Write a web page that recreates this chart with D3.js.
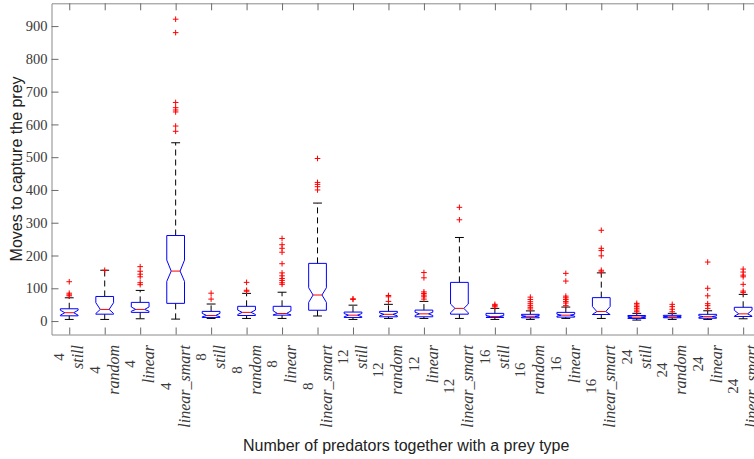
<!DOCTYPE html>
<html><head><meta charset="utf-8">
<script src="https://cdn.jsdelivr.net/npm/d3@7"></script>
<style>body{margin:0;background:#fff;} svg{display:block}</style>
</head><body><svg id="c" width="754" height="459"></svg>
<script>
// ---- data ----
const numLabels  = ["4","4","4","4","8","8","8","8","12","12","12","12","16","16","16","16","24","24","24","24"];
const typeLabels = ["still","random","linear","linear_smart","still","random","linear","linear_smart",
                    "still","random","linear","linear_smart","still","random","linear","linear_smart",
                    "still","random","linear","linear_smart"];
const q1       = [16, 21, 26.5, 54, 11, 17, 18, 33, 11, 13, 13, 21, 11, 10, 12, 20, 8, 10, 8.5, 14];
const medians  = [25.5, 35.5, 35.5, 152.5, 17, 26.5, 23, 79.5, 18, 20.5, 22, 38.7, 14, 14.5, 18, 29, 12, 13, 13.5, 22];
const q3       = [37.5, 75, 57, 261, 29.5, 45, 45, 176, 27.5, 29.6, 33.5, 118, 23.5, 20.5, 26.5, 71.5, 17, 17.5, 20.5, 42];
const whiskLo  = [5, 5, 7, 6, 8, 8, 8, 15.5, 5, 8, 8, 8, 5, 5, 8, 8, 3, 5, 5, 7];
const whiskHi  = [71, 155, 93.5, 544, 52, 84.5, 88, 360, 48.5, 51, 60, 255, 38.7, 31, 42.7, 147, 23.5, 23.5, 31.4, 81.4];
const notchLo  = [18, 23, 30, 121, 13, 20, 19, 57, 13, 16, 17, 25, 11.5, 12, 15, 20, 10, 11.5, 11, 15];
const notchHi  = [33, 56, 43, 186, 23.5, 33.5, 31, 101.6, 23, 25, 27, 52, 17, 17, 21, 44.5, 14, 14.5, 16, 33];
const outliers = [
  [120, 85, 80, 77],
  [155],
  [166, 152, 143, 135, 117, 111],
  [921, 880, 667, 651, 644, 638, 595, 579],
  [85, 67],
  [118, 94, 91],
  [252, 233, 222, 210, 175, 147, 138, 130, 124, 117, 112],
  [496, 423, 417, 410, 400],
  [68, 66],
  [78, 74, 60],
  [148, 132, 89, 84, 79, 74, 67],
  [347, 309],
  [51, 47, 43.6],
  [73, 66, 59, 53, 47, 42, 37],
  [145.5, 122, 76, 71, 66, 60, 55, 47],
  [277, 222, 215, 199, 155, 150],
  [54, 49, 44, 39, 33.5, 28.4],
  [51, 44, 36, 28.4],
  [180, 100, 77, 53, 47, 38.7],
  [158.6, 149.5, 140, 135, 112, 91.5, 87.5]
];
const yTicks = [0, 100, 200, 300, 400, 500, 600, 700, 800, 900];
const xTitle = "Number of predators together with a prey type";
const yTitle = "Moves to capture the prey";

// ---- layout ----
const svg = d3.select("#c");
const L = 51.5, R = 760.9, T = 3.3, B = 334.5;
const x = d3.scaleLinear().domain([0.5, 20.5]).range([L, R]);
const y = d3.scaleLinear().domain([-41, 969.5]).range([B, T]);
const axisCol = "#8a8a8a", tickCol = "#6a6a6a", labCol = "#3a3a3a";
const serif = "'Liberation Serif','Times New Roman',serif";
const sans = "'Liberation Sans',Arial,Helvetica,sans-serif";

const groups = d3.range(20).map(i => ({
  i, pos: i + 1, q1: q1[i], med: medians[i], q3: q3[i], wl: whiskLo[i], wh: whiskHi[i],
  nl: notchLo[i], nh: notchHi[i], out: outliers[i]
}));

// axes
const gx = svg.append("g").attr("transform", `translate(0,${B})`)
  .call(d3.axisBottom(x).tickValues(d3.range(1, 21)).tickSize(-7).tickSizeOuter(0).tickFormat(""));
const gxt = svg.append("g").attr("transform", `translate(0,${T})`)
  .call(d3.axisTop(x).tickValues(d3.range(1, 21)).tickSize(-7).tickSizeOuter(0).tickFormat(""));
const gy = svg.append("g").attr("transform", `translate(${L},0)`)
  .call(d3.axisLeft(y).tickValues(yTicks).tickSize(-7).tickSizeOuter(0).tickPadding(4));
[gx, gxt, gy].forEach(g => {
  g.select(".domain").attr("stroke", axisCol);
  g.selectAll(".tick line").attr("stroke", tickCol);
});
gy.selectAll(".tick text").attr("font-family", serif).attr("font-size", 14.5).attr("fill", labCol);
svg.append("line").attr("x1", R).attr("x2", R).attr("y1", T).attr("y2", B).attr("stroke", axisCol);

// x tick labels (two lines, rotated)
const labTop = 345;
groups.forEach(g => {
  const cx = x(g.pos);
  const t = svg.append("text")
    .attr("transform", `translate(${cx + 14},${labTop}) rotate(-90)`)
    .attr("text-anchor", "end").attr("font-family", serif).attr("font-style", "italic")
    .attr("font-size", 16).attr("fill", labCol).text(typeLabels[g.i]);
  const w = t.node().getComputedTextLength();
  svg.append("text")
    .attr("transform", `translate(${cx - 5},${labTop + w / 2}) rotate(-90)`)
    .attr("text-anchor", "middle").attr("font-family", serif)
    .attr("font-size", 15).attr("fill", labCol).text(numLabels[g.i]);
});

// boxes
const hw = 0.25, cap = 0.125, inset = 0.125;
const plot = svg.append("g");
groups.forEach(g => {
  const p = g.pos;
  // whiskers
  plot.append("line").attr("x1", x(p)).attr("x2", x(p)).attr("y1", y(g.q3)).attr("y2", y(g.wh))
    .attr("stroke", "#000").attr("stroke-dasharray", "6,4").attr("stroke-width", 1);
  plot.append("line").attr("x1", x(p)).attr("x2", x(p)).attr("y1", y(g.q1)).attr("y2", y(g.wl))
    .attr("stroke", "#000").attr("stroke-dasharray", "6,4").attr("stroke-width", 1);
  [g.wh, g.wl].forEach(v => plot.append("line")
    .attr("x1", x(p - cap)).attr("x2", x(p + cap)).attr("y1", y(v)).attr("y2", y(v))
    .attr("stroke", "#000").attr("stroke-width", 1));
  // notched box
  const pts = [
    [p - hw, g.q1], [p - hw, g.nl], [p - hw + inset, g.med], [p - hw, g.nh], [p - hw, g.q3],
    [p + hw, g.q3], [p + hw, g.nh], [p + hw - inset, g.med], [p + hw, g.nl], [p + hw, g.q1]
  ];
  plot.append("path").attr("d", d3.line().x(d => x(d[0])).y(d => y(d[1]))(pts) + "Z")
    .attr("fill", "none").attr("stroke", "#0000ff").attr("stroke-width", 1);
  // median
  plot.append("line").attr("x1", x(p - hw + inset)).attr("x2", x(p + hw - inset))
    .attr("y1", y(g.med)).attr("y2", y(g.med)).attr("stroke", "#ff0000").attr("stroke-width", 1);
  // outliers
  g.out.forEach(v => {
    const cx = x(p), cy = y(v), s = 2.8;
    plot.append("path").attr("d", `M${cx - s},${cy}H${cx + s}M${cx},${cy - s}V${cy + s}`)
      .attr("stroke", "#ff0000").attr("stroke-width", 1).attr("fill", "none");
  });
});

// titles
svg.append("text").attr("x", (L + R) / 2).attr("y", 451).attr("text-anchor", "middle")
  .attr("font-family", sans).attr("font-size", 16).attr("fill", "#222").text(xTitle);
svg.append("text").attr("transform", `translate(22,${(T + B) / 2}) rotate(-90)`)
  .attr("text-anchor", "middle").attr("font-family", sans).attr("font-size", 16)
  .attr("fill", "#222").text(yTitle);
</script></body></html>
